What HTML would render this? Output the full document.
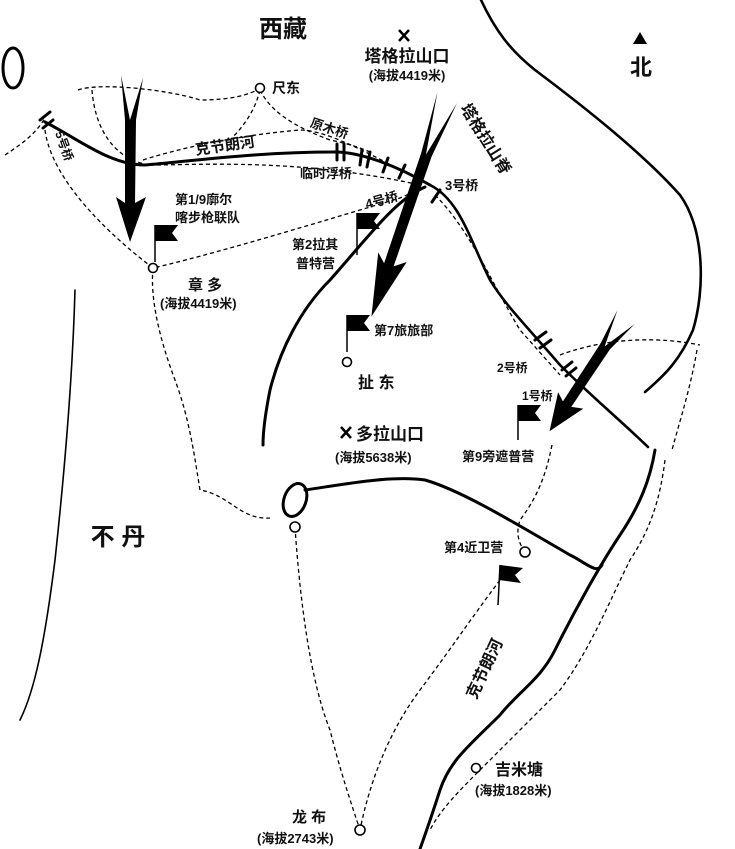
<!DOCTYPE html>
<html><head><meta charset="utf-8"><style>
html,body{margin:0;padding:0;background:#fff;}
svg{display:block;}
text{font-family:"Liberation Sans","Noto Sans CJK SC",sans-serif;fill:#111;font-weight:bold;}
</style></head><body>
<svg width="735" height="849" viewBox="0 0 735 849" xmlns="http://www.w3.org/2000/svg">
<defs>
<polygon id="arr" points="-9,0 0,45 13,3 6,45 5,128 16,122 0,167 -14,122 -5,128 -5,45" fill="#000"/>
</defs>
<g fill="none" stroke="#000" stroke-linecap="round" stroke-linejoin="round">
<path d="M481,0 C495,30 510,50 535,70 C575,100 640,150 680,195 C705,230 705,290 693,330 C680,360 665,375 645,392" stroke-width="2.6"/>
<path d="M655,450 C650,480 640,505 620,535 C600,565 575,610 555,650 C540,680 520,690 500,715 C470,745 450,760 440,790 C432,815 425,835 420,849" stroke-width="3"/>
<path d="M305,490 C340,485 390,475 425,480 C460,490 510,520 570,555 C585,562 597,575 602,565" stroke-width="3"/>
<ellipse cx="295" cy="500" rx="11" ry="17" transform="rotate(20 295 500)" stroke-width="3"/>
<ellipse cx="13" cy="68" rx="10" ry="20" stroke-width="3"/>
<path d="M75,290 C73,360 68,440 55,560 C45,640 35,690 20,720" stroke-width="1.6"/>
<path d="M45,122 C80,140 110,165 145,165 C200,160 260,152 335,152 C360,152 395,165 430,185" stroke-width="3"/>
<path d="M430,185 C460,200 470,240 490,280 C505,305 530,330 560,365 C590,395 620,420 648,447" stroke-width="2.6"/>
<path d="M425,187 C395,200 370,235 330,280 C300,310 280,350 270,390 C265,415 263,430 263,445" stroke-width="3"/>
<g stroke-width="3">
<line x1="337" y1="144" x2="337" y2="160"/><line x1="344" y1="144" x2="344" y2="160"/>
<line x1="362" y1="150" x2="360" y2="165"/><line x1="370" y1="152" x2="367" y2="167"/>
<line x1="388" y1="158" x2="383" y2="172"/><line x1="405" y1="165" x2="399" y2="178"/>
<line x1="420" y1="172" x2="413" y2="185"/>
<line x1="440" y1="190" x2="432" y2="202"/>
<line x1="535" y1="340" x2="546" y2="332"/><line x1="540" y1="348" x2="551" y2="340"/>
<line x1="562" y1="370" x2="572" y2="362"/><line x1="566" y1="376" x2="576" y2="368"/>
<line x1="40" y1="120" x2="50" y2="112"/><line x1="43" y1="128" x2="53" y2="120"/>
</g>
</g>
<g fill="none" stroke="#000" stroke-width="1.3" stroke-dasharray="4,3">
<path d="M5,155 C20,145 35,135 45,118"/>
<path d="M45,130 C50,170 90,220 153,268 C210,255 300,228 400,198 L425,187"/>
<path d="M78,90 C100,82 170,90 200,100 C230,100 250,95 260,88"/>
<path d="M92,90 C95,130 115,160 150,165"/>
<path d="M143,160 C180,148 240,135 300,130 C330,130 380,160 420,180"/>
<path d="M260,90 C270,110 290,125 330,140 C355,145 365,150 370,152"/>
<path d="M260,90 C255,110 245,125 230,140"/>
<path d="M150,165 C200,165 300,158 420,185"/>
<path d="M153,268 C150,300 160,340 175,380 C190,420 195,460 200,490 C230,495 240,520 270,518"/>
<path d="M435,195 C470,230 490,280 520,330 L560,375"/>
<path d="M560,355 C600,340 650,335 700,345"/>
<path d="M697,350 C690,390 680,420 672,450"/>
<path d="M552,445 C545,480 535,500 520,520 C515,535 520,545 525,552"/>
<path d="M500,580 C470,620 450,650 420,690 C390,730 370,780 360,830"/>
<path d="M295,527 C300,600 310,680 330,730 C340,770 350,800 360,830"/>
<path d="M665,460 C660,500 650,530 630,560 C610,600 590,650 560,690 C530,720 500,750 480,770 C460,790 440,810 430,830"/>
</g>
<g fill="#fff" stroke="#000" stroke-width="1.6">
<circle cx="260" cy="88" r="4.5"/>
<circle cx="153" cy="268" r="4.5"/>
<circle cx="347" cy="362" r="4.5"/>
<circle cx="295" cy="527" r="5"/>
<circle cx="525" cy="552" r="5"/>
<circle cx="476" cy="768" r="4.5"/>
<circle cx="360" cy="830" r="5"/>
</g>
<g stroke="#000" stroke-width="1.5" fill="#000">
<line x1="155" y1="225" x2="155" y2="262"/><polygon points="155,225 178,225 172,233 178,241 155,241" stroke="none"/>
<line x1="357" y1="213" x2="357" y2="255"/><polygon points="357,213 380,213 374,221 380,229 357,229" stroke="none"/>
<line x1="347" y1="315" x2="347" y2="352"/><polygon points="347,315 370,315 364,323 370,331 347,331" stroke="none"/>
<line x1="518" y1="405" x2="518" y2="440"/><polygon points="518,405 541,405 535,413 541,421 518,421" stroke="none"/>
<line x1="500" y1="565" x2="498" y2="605"/><polygon points="500,565 523,568 515,575 521,583 499,580" stroke="none"/>
</g>
<use href="#arr" transform="translate(130,75)"/>
<use href="#arr" transform="translate(446,95) rotate(18.6) scale(1,1.4)"/>
<use href="#arr" transform="translate(625,315) rotate(33) scale(1,0.83)"/>
<polygon points="640,32 633,44 647,44" fill="#000"/>
<g stroke="#000" stroke-width="2.5">
<line x1="399" y1="30" x2="409" y2="41"/><line x1="409" y1="30" x2="399" y2="41"/>
<line x1="341" y1="427" x2="351" y2="438"/><line x1="351" y1="427" x2="341" y2="438"/>
</g>
<text x="283" y="37" font-size="24" text-anchor="middle">西藏</text>
<text x="641" y="75" font-size="22" text-anchor="middle">北</text>
<text x="407" y="62" font-size="17" text-anchor="middle">塔格拉山口</text>
<text x="407" y="80" font-size="13" text-anchor="middle">(海拔4419米)</text>
<text x="272" y="93" font-size="14">尺东</text>
<text x="310" y="133" font-size="13" transform="rotate(18 330 128)">原木桥</text>
<text x="195" y="150" font-size="15" transform="rotate(-8 230 145)">克节朗河</text>
<text x="300" y="178" font-size="13">临时浮桥</text>
<text x="365" y="205" font-size="13" transform="rotate(-15 380 200)">4号桥</text>
<text x="445" y="190" font-size="13">3号桥</text>
<text x="460" y="108" font-size="16" transform="rotate(58 460 108)">塔格拉山脊</text>
<text x="55" y="133" font-size="12" transform="rotate(70 55 133)">5号桥</text>
<text x="175" y="204" font-size="13">第1/9廓尔</text>
<text x="175" y="222" font-size="13">喀步枪联队</text>
<text x="188" y="290" font-size="15">章 多</text>
<text x="160" y="308" font-size="13">(海拔4419米)</text>
<text x="292" y="249" font-size="13">第2拉其</text>
<text x="296" y="268" font-size="13">普特营</text>
<text x="374" y="335" font-size="13">第7旅旅部</text>
<text x="358" y="388" font-size="16">扯 东</text>
<text x="497" y="372" font-size="12">2号桥</text>
<text x="522" y="400" font-size="12">1号桥</text>
<text x="462" y="461" font-size="13">第9旁遮普营</text>
<text x="356" y="440" font-size="17">多拉山口</text>
<text x="335" y="462" font-size="13">(海拔5638米)</text>
<text x="118" y="545" font-size="24" text-anchor="middle">不 丹</text>
<text x="444" y="552" font-size="13">第4近卫营</text>
<text x="476" y="700" font-size="16" transform="rotate(-65 476 700)">克节朗河</text>
<text x="495" y="775" font-size="16">吉米塘</text>
<text x="475" y="795" font-size="13">(海拔1828米)</text>
<text x="292" y="822" font-size="15">龙 布</text>
<text x="257" y="843" font-size="13">(海拔2743米)</text>
</svg>
</body></html>
